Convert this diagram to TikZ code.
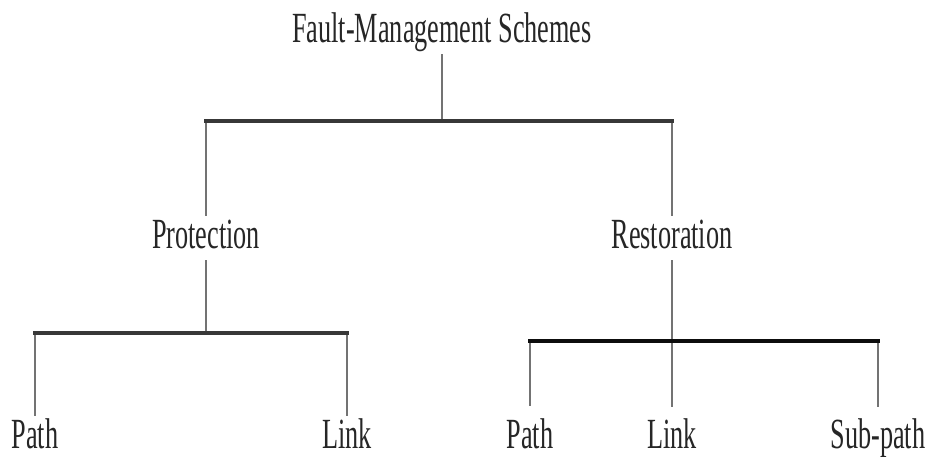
\documentclass[tikz,border=0pt]{standalone}
\usepackage{graphicx}
\usepackage{fontspec}
\setmainfont{Liberation Serif}
% narrow, tall lettering
\newcommand{\narrowtext}[1]{\scalebox{0.61}[1]{#1}}
\tikzset{
  label/.style={anchor=base, inner xsep=0pt, inner ysep=3pt,
    text height=29pt, text depth=9pt, text=black!85,
    font=\fontsize{43}{43}\selectfont},
  stem/.style={draw=black!55, line width=2.6pt},
  bar/.style={draw=black!78, line width=3.2pt},
  heavybar/.style={draw=black!95, line width=4.2pt},
}
\begin{document}
\begin{tikzpicture}[x=1pt,y=1pt]
\useasboundingbox[fill=white] (0,0) rectangle (927,-456);

% labels (placed on their baselines)
\node[label] (root)  at (442,-42)  {\narrowtext{Fault-Management Schemes}};
\node[label] (prot)  at (206,-248) {\narrowtext{Protection}};
\node[label] (rest)  at (672,-248) {\narrowtext{Restoration}};
\node[label] (ppath) at (35,-448)  {\narrowtext{Path}};
\node[label] (plink) at (347,-448) {\narrowtext{Link}};
\node[label] (rpath) at (530,-448) {\narrowtext{Path}};
\node[label] (rlink) at (672,-448) {\narrowtext{Link}};
\node[label] (rsub)  at (878,-448) {\narrowtext{Sub-path}};

% heights of the horizontal bars
\coordinate (topbar)   at (0,-121);
\coordinate (protbar)  at (0,-333);
\coordinate (restbar)  at (0,-341);

% root level
\draw[stem] (root.south) -- (root.south |- topbar);
\draw[stem] (prot.north |- topbar) -- (prot.north);
\draw[stem] (rest.north |- topbar) -- (rest.north);
\draw[bar, line cap=rect] (prot.north |- topbar) -- (rest.north |- topbar);

% protection branch
\draw[stem] (prot.south) -- (prot.south |- protbar);
\draw[stem] (ppath.north |- protbar) -- (ppath.north);
\draw[stem] (plink.north |- protbar) -- (plink.north);
\draw[bar, line cap=rect] (ppath.north |- protbar) -- (plink.north |- protbar);

% restoration branch
\draw[stem] (rest.south) -- ([yshift=9pt]rlink.north);
\draw[stem] (rpath.north |- restbar) -- ([yshift=10pt]rpath.north);
\draw[stem] (rsub.north |- restbar) -- ([yshift=9pt]rsub.north);
\draw[heavybar, line cap=rect] (rpath.north |- restbar) -- (rsub.north |- restbar);
\end{tikzpicture}
\end{document}
